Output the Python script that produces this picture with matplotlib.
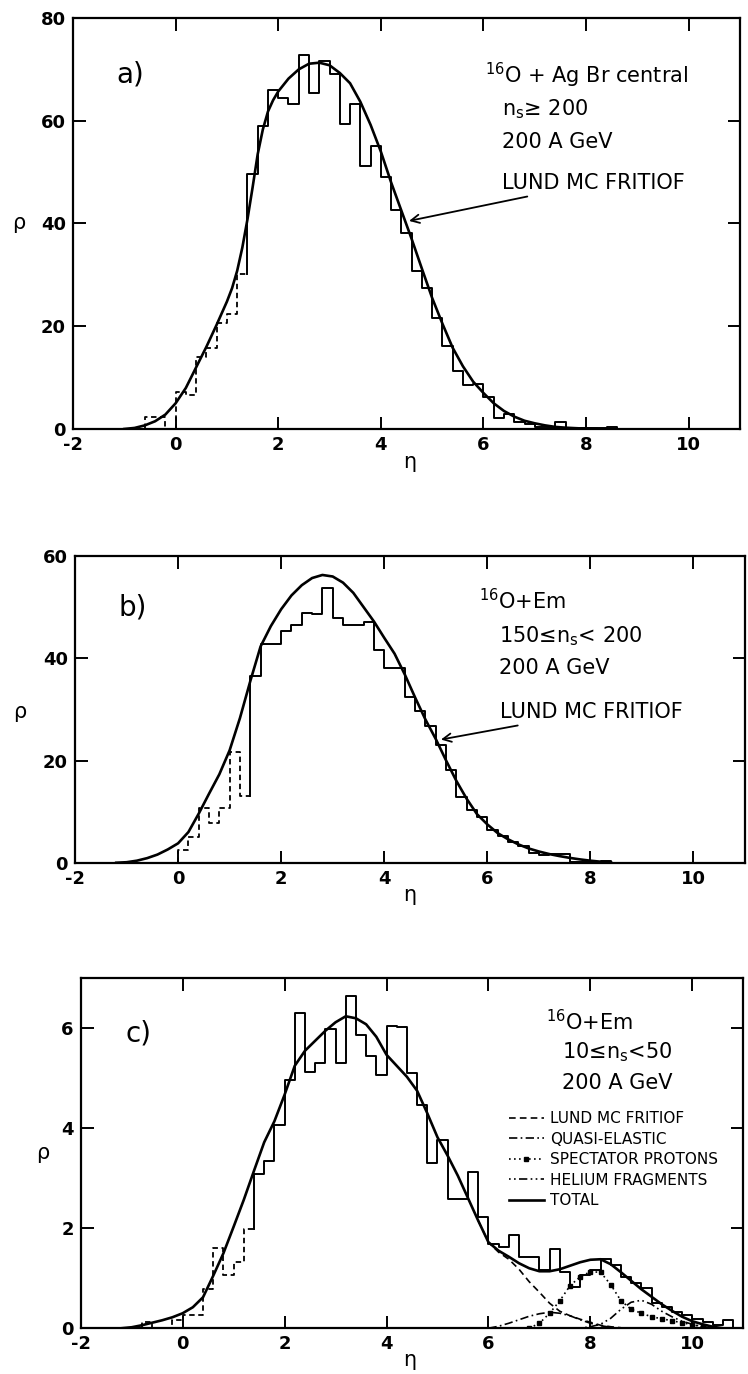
import numpy as np
import matplotlib
matplotlib.use('Agg')
import matplotlib.pyplot as plt
from matplotlib.lines import Line2D

plt.rcParams['font.family'] = ['DejaVu Sans']
plt.rcParams['axes.unicode_minus'] = False

# ---------------- panel a : 16O + AgBr central ----------------
a_dash_edges = [-0.6, -0.4, -0.2, 0.0, 0.2, 0.4, 0.6, 0.8, 1.0, 1.2, 1.4]
a_dash_vals = [2.4, 2.4, 0.0, 7.1, 6.7, 14.1, 15.8, 20.7, 22.3, 30.1]
a_edges = [1.4, 1.6, 1.8, 2.0, 2.2, 2.4, 2.6, 2.8, 3.0, 3.2, 3.4, 3.6, 3.8, 4.0,
           4.2, 4.4, 4.6, 4.8, 5.0, 5.2, 5.4, 5.6, 5.8, 6.0, 6.2, 6.4, 6.6, 6.8,
           7.0, 7.2, 7.4, 7.6, 7.8, 8.0, 8.2, 8.4, 8.6]
a_vals = [49.6, 58.9, 65.9, 64.4, 63.3, 72.7, 65.4, 71.7, 69.1, 59.4, 63.3, 51.2,
          55.0, 49.0, 42.6, 38.2, 30.7, 27.5, 21.6, 16.1, 11.2, 8.6, 8.8, 6.3,
          2.1, 3.0, 1.4, 1.0, 0.4, 0.3, 1.4, 0.1, 0.1, 0.1, 0.1, 0.3]
a_fit_eta = [-1.0, -0.8, -0.6, -0.4, -0.2, 0.0, 0.2, 0.4, 0.6, 0.8, 1.0, 1.1, 1.2,
             1.3, 1.4, 1.5, 1.6, 1.7, 1.8, 1.9, 2.0, 2.2, 2.4, 2.6, 2.8, 3.0, 3.2,
             3.4, 3.6, 3.8, 4.0, 4.2, 4.4, 4.6, 4.8, 5.0, 5.2, 5.4, 5.6, 5.8, 6.0,
             6.2, 6.4, 6.6, 6.8, 7.0, 7.2, 7.4, 7.6, 7.8, 8.0, 8.2]
a_fit_rho = [0.0, 0.2, 0.7, 1.5, 2.8, 5.0, 8.0, 12.0, 16.0, 20.3, 24.8, 27.4, 30.8,
             35.3, 40.8, 47.0, 53.5, 58.3, 61.8, 64.0, 65.7, 68.2, 70.0, 71.1, 71.3,
             70.8, 69.3, 67.3, 63.7, 59.2, 54.0, 48.0, 42.5, 37.0, 31.2, 25.5, 20.5,
             15.8, 12.2, 9.2, 7.0, 5.0, 3.5, 2.4, 1.6, 1.1, 0.7, 0.4, 0.25, 0.15,
             0.06, 0.0]

# ---------------- panel b : 16O + Em, 150 <= ns < 200 ----------------
b_dash_edges = [0.0, 0.2, 0.4, 0.6, 0.8, 1.0, 1.2, 1.4]
b_dash_vals = [2.5, 5.1, 10.7, 7.8, 10.7, 21.6, 13.1]
b_edges = [1.4, 1.6, 1.8, 2.0, 2.2, 2.4, 2.6, 2.8, 3.0, 3.2, 3.4, 3.6, 3.8, 4.0,
           4.2, 4.4, 4.6, 4.8, 5.0, 5.2, 5.4, 5.6, 5.8, 6.0, 6.2, 6.4, 6.6, 6.8,
           7.0, 7.2, 7.4, 7.6, 7.8, 8.0, 8.2, 8.4]
b_vals = [36.5, 42.7, 42.7, 45.3, 46.6, 48.8, 48.6, 53.8, 47.9, 46.6, 46.6, 47.1,
          41.7, 38.1, 38.1, 32.4, 29.6, 26.7, 23.1, 18.2, 12.8, 10.3, 9.0, 6.4,
          5.2, 4.1, 3.3, 2.0, 1.5, 1.7, 1.7, 0.1, 0.1, 0.1, 0.3]
b_fit_eta = [-1.2, -1.0, -0.8, -0.6, -0.4, -0.2, 0.0, 0.2, 0.4, 0.6, 0.8, 1.0, 1.2,
             1.4, 1.6, 1.8, 2.0, 2.2, 2.4, 2.6, 2.8, 3.0, 3.2, 3.4, 3.6, 3.8, 4.0,
             4.2, 4.4, 4.6, 4.8, 5.0, 5.2, 5.4, 5.6, 5.8, 6.0, 6.2, 6.4, 6.6, 6.8,
             7.0, 7.2, 7.4, 7.6, 7.8, 8.0, 8.2, 8.4]
b_fit_rho = [0.0, 0.1, 0.4, 0.9, 1.6, 2.6, 3.8, 6.0, 9.6, 13.5, 17.3, 22.0, 28.3,
             35.5, 42.3, 46.3, 49.6, 52.3, 54.3, 55.7, 56.3, 56.0, 54.8, 52.8, 50.0,
             47.2, 44.0, 40.9, 36.8, 32.3, 28.0, 24.2, 20.0, 16.0, 12.5, 9.5, 7.5,
             5.8, 4.6, 3.6, 2.8, 2.2, 1.7, 1.3, 0.95, 0.65, 0.4, 0.2, 0.05]

# ---------------- panel c : 16O + Em, 10 <= ns < 50 ----------------
c_dash_edges = [-0.8, -0.6, -0.4, -0.2, 0.0, 0.2, 0.4, 0.6, 0.8, 1.0, 1.2, 1.4]
c_dash_vals = [0.13, 0.0, 0.0, 0.17, 0.26, 0.26, 0.79, 1.6, 1.06, 1.32, 1.99]
c_edges = [1.4, 1.6, 1.8, 2.0, 2.2, 2.4, 2.6, 2.8, 3.0, 3.2, 3.4, 3.6, 3.8, 4.0,
           4.2, 4.4, 4.6, 4.8, 5.0, 5.2, 5.4, 5.6, 5.8, 6.0, 6.2, 6.4, 6.6, 6.8,
           7.0, 7.2, 7.4, 7.6, 7.8, 8.0, 8.2, 8.4, 8.6, 8.8, 9.0, 9.2, 9.4, 9.6,
           9.8, 10.0, 10.2, 10.4, 10.6, 10.8]
c_vals = [3.08, 3.35, 4.06, 4.97, 6.30, 5.13, 5.30, 5.99, 5.30, 6.64, 5.87, 5.44,
          5.07, 6.04, 6.03, 5.10, 4.46, 3.31, 3.76, 2.58, 2.58, 3.13, 2.22, 1.69,
          1.62, 1.87, 1.42, 1.42, 1.16, 1.59, 1.13, 0.83, 1.06, 1.16, 1.39, 1.26,
          1.03, 0.90, 0.80, 0.50, 0.43, 0.33, 0.27, 0.18, 0.13, 0.07, 0.17]
c_tot_eta = [-1.2, -1.0, -0.8, -0.6, -0.4, -0.2, 0.0, 0.2, 0.4, 0.6, 0.8, 1.0, 1.2,
             1.4, 1.6, 1.8, 2.0, 2.2, 2.4, 2.6, 2.8, 3.0, 3.2, 3.4, 3.6, 3.8, 4.0,
             4.2, 4.4, 4.6, 4.8, 5.0, 5.2, 5.4, 5.6, 5.8, 6.0, 6.2, 6.4, 6.6, 6.8,
             7.0, 7.2, 7.4, 7.6, 7.8, 8.0, 8.2, 8.4, 8.6, 8.8, 9.0, 9.2, 9.4, 9.6,
             9.8, 10.0, 10.2, 10.4, 10.6]
c_tot_rho = [0.0, 0.02, 0.06, 0.11, 0.16, 0.22, 0.30, 0.42, 0.62, 1.05, 1.50, 2.03,
             2.57, 3.15, 3.72, 4.14, 4.67, 5.25, 5.55, 5.75, 5.95, 6.12, 6.24, 6.20,
             6.08, 5.83, 5.47, 5.25, 5.03, 4.75, 4.30, 3.82, 3.45, 3.05, 2.60, 2.15,
             1.72, 1.55, 1.43, 1.30, 1.20, 1.14, 1.14, 1.18, 1.25, 1.32, 1.37, 1.38,
             1.28, 1.12, 0.95, 0.78, 0.63, 0.48, 0.35, 0.23, 0.14, 0.08, 0.03, 0.0]
lund_eta = [5.8, 6.0, 6.2, 6.4, 6.6, 6.8, 7.0, 7.2, 7.4, 7.6, 7.8, 8.0, 8.2, 8.4, 8.6]
lund_rho = [2.15, 1.72, 1.52, 1.38, 1.18, 0.93, 0.72, 0.50, 0.34, 0.25, 0.18, 0.12,
            0.06, 0.03, 0.01]
quasi_eta = [6.0, 6.2, 6.4, 6.6, 6.8, 7.0, 7.2, 7.4, 7.6, 7.8, 8.0, 8.2, 8.4, 8.6]
quasi_rho = [0.0, 0.04, 0.10, 0.17, 0.24, 0.29, 0.32, 0.30, 0.25, 0.17, 0.10, 0.05,
             0.02, 0.0]
spect_eta = [6.8, 7.0, 7.2, 7.4, 7.6, 7.8, 8.0, 8.2, 8.4, 8.6, 8.8, 9.0, 9.2, 9.4,
             9.6, 9.8, 10.0, 10.2, 10.4]
spect_rho = [0.0, 0.10, 0.30, 0.55, 0.85, 1.03, 1.13, 1.12, 0.87, 0.55, 0.38, 0.30,
             0.23, 0.19, 0.15, 0.11, 0.07, 0.03, 0.0]
helium_eta = [7.8, 8.0, 8.2, 8.4, 8.6, 8.8, 9.0, 9.2, 9.4, 9.6, 9.8, 10.0, 10.2, 10.4]
helium_rho = [0.0, 0.03, 0.08, 0.20, 0.38, 0.52, 0.56, 0.48, 0.34, 0.23, 0.14, 0.08,
              0.03, 0.0]

x_ticks = [-2, 0, 2, 4, 6, 8, 10]


def step_path(edges, vals, y_start, y_end):
    xs = np.repeat(edges, 2)
    ys = np.concatenate([[y_start], np.repeat(vals, 2), [y_end]])
    return xs, ys


def style_axes(ax, ymax, yticks):
    ax.set_xlim(-2, 11)
    ax.set_ylim(0, ymax)
    ax.set_xticks(x_ticks)
    ax.set_yticks(yticks)
    ax.tick_params(direction='in', top=True, right=True, length=9, width=1.4,
                   labelsize=13, pad=5)
    for lab in ax.get_xticklabels() + ax.get_yticklabels():
        lab.set_fontweight('bold')
    for sp in ax.spines.values():
        sp.set_linewidth(1.6)


def draw_hist(ax, dash_edges, dash_vals, edges, vals):
    xs, ys = step_path(dash_edges, dash_vals, 0, dash_vals[-1])
    ax.plot(xs, ys, color='k', lw=1.3, linestyle=(0, (3, 2)))
    xs, ys = step_path(edges, vals, dash_vals[-1], 0)
    ax.plot(xs, ys, color='k', lw=1.4)


fig = plt.figure(figsize=(7.48, 13.74), dpi=100)
ax_a = fig.add_axes([0.0976, 0.6878, 0.8917, 0.2991])
ax_b = fig.add_axes([0.1003, 0.3721, 0.8957, 0.2232])
ax_c = fig.add_axes([0.1079, 0.0333, 0.8858, 0.2547])

# panel a
draw_hist(ax_a, a_dash_edges, a_dash_vals, a_edges, a_vals)
ax_a.plot(a_fit_eta, a_fit_rho, color='k', lw=1.9)
style_axes(ax_a, 80, [0, 20, 40, 60, 80])
ax_a.text(-1.16, 69, 'a)', fontsize=20, va='center')
ax_a.text(6.03, 68.8, r'$^{16}$O + Ag Br central', fontsize=15, va='center')
ax_a.text(6.36, 62.3, r'n$_\mathregular{s}$≥ 200', fontsize=15, va='center')
ax_a.text(6.36, 55.9, '200 A GeV', fontsize=15, va='center')
ax_a.annotate('LUND MC FRITIOF', xy=(4.55, 40.5), xytext=(6.36, 47.9),
              fontsize=15, va='center',
              arrowprops=dict(arrowstyle='->', lw=1.3, color='k',
                              shrinkA=3, shrinkB=0))
ax_a.text(-0.081, 0.5, 'ρ', transform=ax_a.transAxes, fontsize=15,
          ha='center', va='center')
ax_a.text(0.505, -0.08, 'η', transform=ax_a.transAxes, fontsize=15,
          ha='center', va='center')

# panel b
draw_hist(ax_b, b_dash_edges, b_dash_vals, b_edges, b_vals)
ax_b.plot(b_fit_eta, b_fit_rho, color='k', lw=1.9)
style_axes(ax_b, 60, [0, 20, 40, 60])
ax_b.text(-1.16, 49.9, 'b)', fontsize=20, va='center')
ax_b.text(5.84, 51.2, r'$^{16}$O+Em', fontsize=15, va='center')
ax_b.text(6.22, 44.3, r'150≤n$_\mathregular{s}$< 200', fontsize=15, va='center')
ax_b.text(6.22, 38.1, '200 A GeV', fontsize=15, va='center')
ax_b.annotate('LUND MC FRITIOF', xy=(5.1, 24.1), xytext=(6.25, 29.5),
              fontsize=15, va='center',
              arrowprops=dict(arrowstyle='->', lw=1.3, color='k',
                              shrinkA=3, shrinkB=0))
ax_b.text(-0.082, 0.49, 'ρ', transform=ax_b.transAxes, fontsize=15,
          ha='center', va='center')
ax_b.text(0.5, -0.105, 'η', transform=ax_b.transAxes, fontsize=15,
          ha='center', va='center')

# panel c
draw_hist(ax_c, c_dash_edges, c_dash_vals, c_edges, c_vals)
ax_c.plot(lund_eta, lund_rho, color='k', lw=1.2, linestyle=(0, (4, 2.5)))
ax_c.plot(quasi_eta, quasi_rho, color='k', lw=1.2, linestyle=(0, (5, 2, 1, 2)))
ax_c.plot(spect_eta, spect_rho, color='k', lw=1.2, linestyle=(0, (1, 2)),
          marker='s', markersize=2.5)
ax_c.plot(helium_eta, helium_rho, color='k', lw=1.2,
          linestyle=(0, (1, 2, 1, 2, 5, 2)))
ax_c.plot(c_tot_eta, c_tot_rho, color='k', lw=1.9)
style_axes(ax_c, 7, [0, 2, 4, 6])
ax_c.text(-1.13, 5.9, 'c)', fontsize=20, va='center')
ax_c.text(7.12, 6.13, r'$^{16}$O+Em', fontsize=15, va='center')
ax_c.text(7.44, 5.53, r'10≤n$_\mathregular{s}$<50', fontsize=15, va='center')
ax_c.text(7.44, 4.90, '200 A GeV', fontsize=15, va='center')

handles = [
    Line2D([], [], color='k', lw=1.2, linestyle=(0, (4, 2.5))),
    Line2D([], [], color='k', lw=1.2, linestyle=(0, (5, 2, 1, 2))),
    Line2D([], [], color='k', lw=1.2, linestyle=(0, (1, 2)), marker='s',
           markersize=2.5),
    Line2D([], [], color='k', lw=1.2, linestyle=(0, (1, 2, 1, 2, 5, 2))),
    Line2D([], [], color='k', lw=1.9),
]
labels = ['LUND MC FRITIOF', 'QUASI-ELASTIC', 'SPECTATOR PROTONS',
          'HELIUM FRAGMENTS', 'TOTAL']
ax_c.legend(handles, labels, loc='upper left', bbox_to_anchor=(0.63, 0.65),
            frameon=False, fontsize=11, handlelength=2.3, handletextpad=0.4,
            labelspacing=0.35, borderpad=0.2)
ax_c.text(-0.058, 0.5, 'ρ', transform=ax_c.transAxes, fontsize=15,
          ha='center', va='center')
ax_c.text(0.497, -0.09, 'η', transform=ax_c.transAxes, fontsize=15,
          ha='center', va='center')

fig.savefig('out.png', dpi=100)
